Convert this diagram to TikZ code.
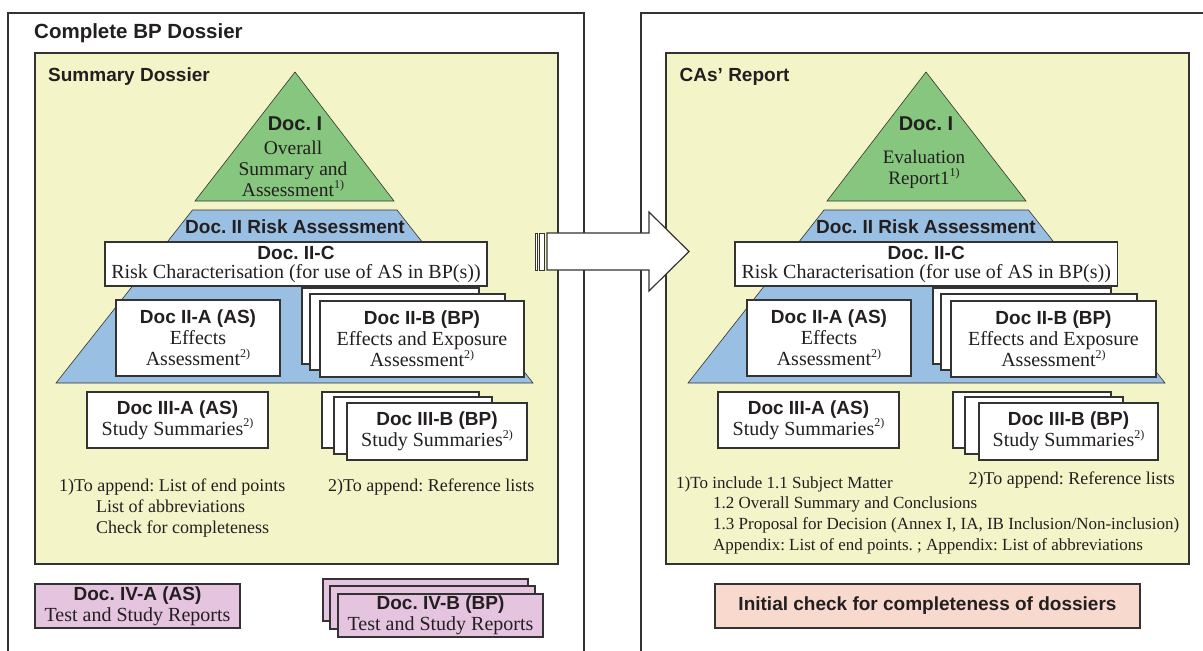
\documentclass[tikz,border=0pt]{standalone}
\usepackage{fontspec}
\setmainfont{Liberation Serif}
\setsansfont{Liberation Sans}
\frenchspacing
\definecolor{ybg}{HTML}{F3F4C8}
\definecolor{pgreen}{HTML}{86C67F}
\definecolor{pblue}{HTML}{99BFE2}
\definecolor{ppink}{HTML}{E5C4E0}
\definecolor{psalmon}{HTML}{F8D9CE}
\definecolor{linec}{HTML}{333333}
\definecolor{txt}{HTML}{231F20}
\newcommand\supnote[1]{\raisebox{0.42em}{\fontsize{12}{12}\selectfont #1}}
\newcommand\hdf{\sffamily\bfseries\fontsize{19}{21}\selectfont}
\tikzset{
  docbox/.style={draw=linec, line width=1.2pt, fill=white, inner sep=0pt, align=center,
    text=txt, font=\fontsize{20}{21}\selectfont},
  pinkbox/.style={docbox, fill=ppink},
  hdtext/.style={text=txt, font=\hdf, inner sep=0pt},
  bigtitle/.style={text=txt, font=\sffamily\bfseries\fontsize{20.5}{24}\selectfont, inner sep=0pt, anchor=west},
  subtitle/.style={text=txt, font=\sffamily\bfseries\fontsize{19}{22}\selectfont, inner sep=0pt, anchor=west},
  bodytext/.style={text=txt, font=\fontsize{19.5}{20.5}\selectfont, inner sep=0pt, align=center},
  note/.style={text=txt, font=\fontsize{18}{21}\selectfont, inner sep=0pt, anchor=base west},
  notesm/.style={text=txt, font=\fontsize{17}{21}\selectfont, inner sep=0pt, anchor=base west},
  outerline/.style={draw=linec, line width=2pt},
  yellowbox/.style={draw=linec, line width=2.6pt, fill=ybg},
  pyr/.style={draw=linec, line width=0.6pt},
}
\begin{document}
\begin{tikzpicture}[x=1pt,y=-1pt]
\useasboundingbox (0,0) rectangle (1203,651);
\fill[white] (0,0) rectangle (1203,651);

% outer boxes
\draw[outerline] (7.7,670) -- (7.7,13) -- (584,13) -- (584,670);
\draw[outerline] (641,670) -- (641,13) -- (1220,13);
\node[bigtitle] (t1) at (34,33) {Complete BP Dossier};

% yellow boxes
\draw[yellowbox] (35,53) rectangle (558,564);
\draw[yellowbox] (666,53) rectangle (1189,564);
\node[subtitle] (t2) at (48,77) {Summary Dossier};
\node[subtitle] (t3) at (679.5,77) {CAs’ Report};

% ---------- left pyramid ----------
\filldraw[pyr, fill=pgreen] (295,72) -- (394,201) -- (195,201) -- cycle;
\node[hdtext, font=\sffamily\bfseries\fontsize{20}{22}\selectfont] (L1) at (295,124) {Doc. I};
\node[bodytext] (L1t) at (293,169) {Overall\\Summary and\\Assessment\supnote{1)}};
\filldraw[pyr, fill=pblue] (192.5,210) -- (397,210) -- (533,383) -- (56,383) -- cycle;
\node[hdtext] (L2) at (295,227) {Doc. II Risk Assessment};
\node[docbox, minimum width=382, minimum height=44, font=\fontsize{20}{19}\selectfont] (L2C) at (296,264)
  {{\hdf Doc. II-C}\\Risk Characterisation (for use of AS in BP(s))};
\node[docbox, minimum width=164, minimum height=76] (L2A) at (198,338)
  {{\hdf Doc II-A (AS)}\\Effects\\Assessment\supnote{2)}};
\node[docbox, minimum width=177, minimum height=76] (L2Bb1) at (390.5,326) {};
\node[docbox, minimum width=195, minimum height=76] (L2Bb2) at (407.5,332) {};
\node[docbox, minimum width=204, minimum height=76] (L2B) at (422,339)
  {{\hdf Doc II-B (BP)}\\Effects and Exposure\\Assessment\supnote{2)}};
\node[docbox, minimum width=181, minimum height=56] (L3A) at (177.5,420)
  {{\hdf Doc III-A (AS)}\\Study Summaries\supnote{2)}};
\node[docbox, minimum width=157, minimum height=56] (L3Bb1) at (400.5,420) {};
\node[docbox, minimum width=158, minimum height=57] (L3Bb2) at (413,425.5) {};
\node[docbox, minimum width=180, minimum height=57] (L3B) at (437,431.5)
  {{\hdf Doc III-B (BP)}\\Study Summaries\supnote{2)}};
\node[note] (Ln1) at (59,491) {1)To append: List of end points};
\node[note] (Ln2) at (96,512) {List of abbreviations};
\node[note] (Ln3) at (96,533) {Check for completeness};
\node[note] (Ln4) at (328,491) {2)To append: Reference lists};

% doc IV
\node[pinkbox, minimum width=205, minimum height=44] (L4A) at (137.5,606)
  {{\hdf Doc. IV-A (AS)}\\Test and Study Reports};
\node[pinkbox, minimum width=205, minimum height=42] (L4Bb1) at (425.5,600) {};
\node[pinkbox, minimum width=205, minimum height=43] (L4Bb2) at (432.5,607.5) {};
\node[pinkbox, minimum width=205, minimum height=43] (L4B) at (440.5,615.5)
  {{\hdf Doc. IV-B (BP)}\\Test and Study Reports};

% ---------- right pyramid ----------
\filldraw[pyr, fill=pgreen] (926,72) -- (1026,201) -- (827,201) -- cycle;
\node[hdtext, font=\sffamily\bfseries\fontsize{20}{22}\selectfont] (R1) at (926,124) {Doc. I};
\node[bodytext, font=\fontsize{19}{21}\selectfont] (R1t) at (924,169.5) {Evaluation\\Report1\supnote{1)}};
\filldraw[pyr, fill=pblue] (824,210) -- (1028.5,210) -- (1165,383) -- (688,383) -- cycle;
\node[hdtext] (R2) at (926,227) {Doc. II Risk Assessment};
\node[docbox, minimum width=382.5, minimum height=44, font=\fontsize{20}{19}\selectfont] (R2C) at (926.25,264)
  {{\hdf Doc. II-C}\\Risk Characterisation (for use of AS in BP(s))};
\node[docbox, minimum width=164, minimum height=76] (R2A) at (829,338)
  {{\hdf Doc II-A (AS)}\\Effects\\Assessment\supnote{2)}};
\node[docbox, minimum width=178, minimum height=76] (R2Bb1) at (1022,326) {};
\node[docbox, minimum width=196, minimum height=76] (R2Bb2) at (1039,332) {};
\node[docbox, minimum width=205, minimum height=76] (R2B) at (1053.5,339)
  {{\hdf Doc II-B (BP)}\\Effects and Exposure\\Assessment\supnote{2)}};
\node[docbox, minimum width=181, minimum height=56] (R3A) at (808.5,420)
  {{\hdf Doc III-A (AS)}\\Study Summaries\supnote{2)}};
\node[docbox, minimum width=158, minimum height=56] (R3Bb1) at (1032,420) {};
\node[docbox, minimum width=158, minimum height=57] (R3Bb2) at (1044,425.5) {};
\node[docbox, minimum width=179, minimum height=57] (R3B) at (1068.5,431.5)
  {{\hdf Doc III-B (BP)}\\Study Summaries\supnote{2)}};
\node[notesm] (Rn1) at (676,488) {1)To include 1.1 Subject Matter};
\node[notesm] (Rn2) at (713,508) {1.2 Overall Summary and Conclusions};
\node[notesm] (Rn3) at (713,529) {1.3 Proposal for Decision (Annex I, IA, IB Inclusion/Non-inclusion)};
\node[notesm] (Rn4) at (713,550) {Appendix: List of end points. ; Appendix: List of abbreviations};
\node[note] (Rn5) at (968.5,484) {2)To append: Reference lists};

\node[docbox, fill=psalmon, minimum width=425, minimum height=44] (RIC) at (927.5,606)
  {{\hdf Initial check for completeness of dossiers}};

% ---------- block arrow ----------
\filldraw[draw=linec, line width=1.2pt, fill=white]
  (547,233) -- (649,233) -- (649,212) -- (689,251.5) -- (649,291) -- (649,270) -- (547,270) -- cycle;
\filldraw[draw=linec, line width=0.8pt, fill=white] (535,233) rectangle (537.3,270);
\filldraw[draw=linec, line width=0.8pt, fill=white] (539.3,233) rectangle (544.7,270);
\end{tikzpicture}
\end{document}
